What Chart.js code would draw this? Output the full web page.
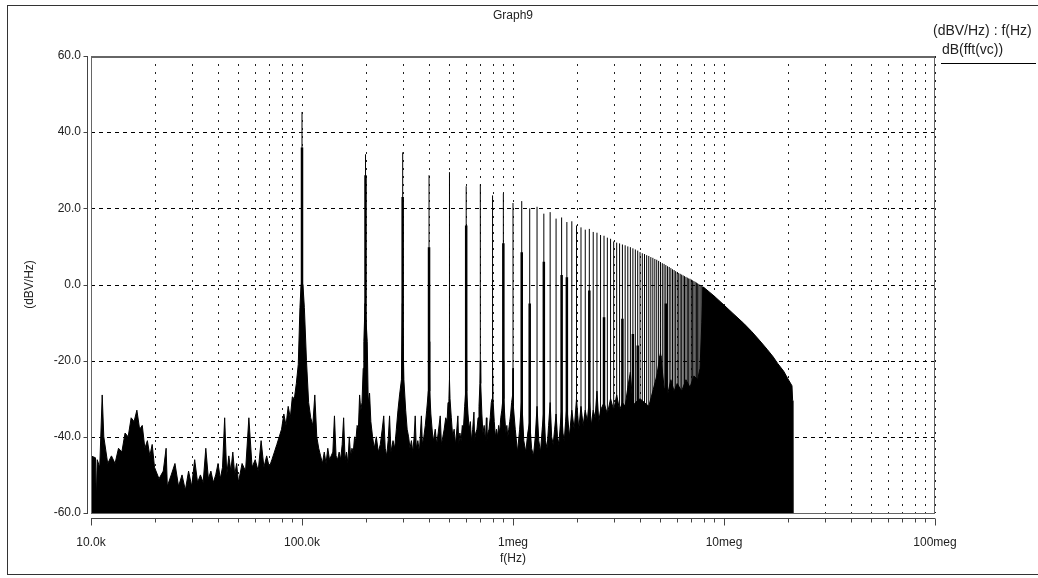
<!DOCTYPE html>
<html lang="en">
<head>
<meta charset="UTF-8">
<title>Graph9</title>
<script src="https://cdn.jsdelivr.net/npm/chart.js@4.4.1/dist/chart.umd.min.js"></script>
<style>
  html,body{margin:0;padding:0;background:#fff}
  canvas{display:block}
</style>
</head>
<body>
<canvas id="fft" width="1038" height="578"></canvas>
<script>
/****************  DATA  ****************/
const titleText = 'Graph9';
const xTitle = 'f(Hz)';
const yTitle = '(dBV/Hz)';
const legendHeader = '(dBV/Hz) : f(Hz)';
const seriesName = 'dB(fft(vc))';

const fundamentalHz = 100e3;

// peak of harmonic n (n = 1..80), dB
const harmonicPeakDb = [
  45.3, 34.2, 34.7, 28.7, 29.5, 25.8, 26.3, 23.4, 23.9, 21.4,
  21.9, 20.0, 20.4, 18.6, 19.0, 17.3, 17.6, 16.4, 16.6, 15.5,
  15.0, 14.4, 14.6, 13.8, 13.6, 13.0, 12.8, 12.3, 12.0, 11.3,
  11.0, 10.8, 10.5, 10.3, 10.0, 9.8, 9.5, 9.2, 8.9, 8.5,
  8.2, 8.0, 7.7, 7.5, 7.2, 7.0, 6.7, 6.5, 6.2, 5.9,
  5.6, 5.4, 5.1, 4.8, 4.6, 4.3, 4.0, 3.8, 3.5, 3.2,
  3.0, 2.8, 2.6, 2.4, 2.2, 2.0, 1.8, 1.6, 1.5, 1.3,
  1.1, 0.9, 0.7, 0.5, 0.3, 0.1, -0.1, -0.3, -0.5, -0.7
];

// harmonics with a thicker base, and where the thick part stops (dB)
const baseN  = [1, 2, 3, 4, 6, 9, 11, 12, 14, 17, 18, 23, 27, 33, 37, 39, 50, 53];
const baseDb = [36, 28.7, 23, 9.8, 15.5, 10.8, 8.5, -5, 6, 2.5, 1.9, -1.6, -8.6, -9, -13, -16, -18.7, -5];

// noise floor / envelope, [kHz, dB], one list per stretch of the spectrum
const noise10k = [
  [10.0,-45],[10.5,-45.5],[10.6,-57],[10.7,-46],[11.0,-48],[11.3,-29],[11.5,-40],[12.0,-47],
  [12.5,-45],[13.0,-47],[13.5,-43],[14.0,-44],[14.5,-39],[15.0,-40],[15.5,-35],[16.0,-36],
  [16.5,-33],[17.0,-38],[17.5,-37],[18.0,-43],[18.5,-41],[19.0,-45],[19.5,-42],[20.0,-48],
  [21,-51],[22,-49],[22.7,-43],[23,-53],[24,-50],[25,-47],[26,-53],[27,-50],[28,-54],[29,-49],
  [30,-53],[31,-46],[32,-52],[33,-50],[34,-52],[35,-43],[36,-51],[37,-49],[38,-52],[39,-50],
  [40,-47],[41,-51],[42,-48],[43,-35],[44,-50],[45,-45],[46,-49],[47,-44],[48,-50],[49,-47],
  [50,-52],[52,-47],[54,-49],[56,-35],[58,-48],[60,-46],[62,-49],[64,-41],[66,-48],[68,-45],
  [70,-48],[72,-46],[74,-44],[76,-42],[78,-40],[80,-38],[82,-34],[84,-37],[86,-32],[88,-35],
  [90,-29.5],[92,-30],[94,-26],[96,-21],[97.8,-6],[99,0],[101,0],[102.6,-6]
];
const noise100k = [
  [105,-20],[107.5,-31],[110,-35],[112.5,-37],[115,-29],[117.5,-40],[120,-43],[122.5,-45],
  [125,-47],[127.5,-44],[130,-47],[132.5,-43],[135,-46],[137.5,-45],[140,-44],[142.5,-34.5],
  [145,-45],[147.5,-46],[150,-44],[152.5,-46],[155,-42],[157.5,-35],[160,-46],[162.5,-44],
  [165,-47],[167.5,-40],[170,-45],[172.5,-43],[175,-44],[177.5,-40],[180,-41],[182.5,-37],
  [185,-38],[187.5,-29],[190,-33],[192.5,-31],[195,-22],[196.4,-15],[199,-5],[201,-5],
  [203.8,-15],[206,-31],[209,-28.5],[212,-36],[216,-40],[220,-43],[225,-40],[230,-44],
  [235,-42],[240,-38],[244,-34.5],[248,-43],[252,-45],[256,-41],[260,-34.5],[264,-44],
  [270,-41],[275,-43],[280,-38],[285,-33],[290,-29],[296,-25],[299,-5],[301,-5],
  [304,-25],[310,-33],[315,-38],[320,-40],[325,-43],[330,-41],[335,-44],[340,-40],
  [344,-34.5],[348,-43],[354,-41],[360,-44],[368,-34.5],[372,-42],[378,-40],[384,-37],
  [390,-33],[397,-28],[399.5,-15],[400.5,-15],[403,-28],[408,-34],[415,-39],[420,-41],
  [428,-38],[435,-42],[442,-39],[452,-34.5],[458,-42],[465,-40],[472,-38],[480,-35],
  [487,-36],[492,-31],[497,-30],[500,-25],[503,-30],[510,-35],[518,-40],[526,-38],
  [534,-42],[540,-39],[548,-34.5],[553,-42],[560,-39],[568,-41],[575,-37],[582,-38],
  [590,-32],[597,-28],[600,-20],[603,-28],[612,-34],[620,-38],[628,-36],[635,-41],
  [644,-38],[653,-33.5],[658,-41],[666,-39],[675,-38],[683,-35],[690,-32],[697,-26],
  [700,-20],[703,-26],[712,-34],[720,-39],[730,-37],[740,-41],[748,-35],[752,-41],
  [760,-39],[770,-38],[780,-35],[789,-31],[796,-30],[800,-22],[804,-30],[815,-36],
  [825,-40],[835,-38],[845,-40],[855,-37],[865,-39],[875,-35],[885,-33],[896,-30],
  [900,-20],[904,-30],[915,-35],[925,-39],[935,-37],[945,-40],[955,-38],[965,-36],
  [975,-34],[985,-31],[996,-29],[1000,-22]
];
const noise1meg = [
  [1004,-32],[1025,-38],[1050,-44],[1075,-38],[1100,-30],[1125,-41],[1150,-44],[1175,-39],
  [1200,-36],[1225,-43],[1250,-45],[1275,-40],[1300,-32],[1325,-41],[1350,-44],[1375,-38],
  [1400,-33],[1425,-41],[1450,-43],[1475,-37],[1500,-31],[1525,-40],[1550,-42],[1575,-38],
  [1600,-34],[1625,-40],[1650,-42],[1675,-37],[1700,-33],[1725,-39],[1750,-41],[1775,-36],
  [1800,-32],[1850,-40],[1900,-33],[1950,-38],[2000,-30],[2050,-38],[2100,-32],[2150,-37],
  [2200,-33],[2250,-36],[2300,-30],[2350,-37],[2400,-33],[2450,-35],[2500,-28],[2550,-36],
  [2600,-33],[2700,-31],[2800,-34],[2900,-30],[3000,-33],[3100,-29],[3200,-33],[3300,-31],
  [3400,-32],[3500,-27],[3600,-23],[3700,-32],[3800,-31],[4000,-30],[4200,-31],[4400,-32],
  [4600,-28],[4800,-24],[5000,-18],[5200,-27],[5400,-29],[5600,-25],[5800,-28],[6000,-26],
  [6300,-28],[6600,-25],[6900,-27],[7200,-24],[7500,-25],[7700,-22],[7850,-10],[7950,-1]
];
// smooth solid envelope where the harmonics merge
const envelope8meg = [
  [8000,-0.7],[8970,-3.0],[10000,-5.4],[11030,-7.6],[12400,-10.2],[13500,-12.3],
  [14800,-14.8],[16000,-17.0],[17100,-19.0],[18000,-20.8],[19200,-22.8],[20000,-24.6],
  [21000,-26.6],[21150,-30.5],[21200,-60]
];

// axis ticks
const xGridHz = [
  1e4, 2e4, 3e4, 4e4, 5e4, 6e4, 7e4, 8e4, 9e4,
  1e5, 2e5, 3e5, 4e5, 5e5, 6e5, 7e5, 8e5, 9e5,
  1e6, 2e6, 3e6, 4e6, 5e6, 6e6, 7e6, 8e6, 9e6,
  1e7, 2e7, 3e7, 4e7, 5e7, 6e7, 7e7, 8e7, 9e7,
  1e8
];
const majorTicksHz = [1e4, 1e5, 1e6, 1e7, 1e8];
const majorTickLabels = ['10.0k', '100.0k', '1meg', '10meg', '100meg'];
const yTicks = [-60, -40, -20, 0, 20, 40, 60];

/****************  BUILD POINTS  ****************/
const yMin = -60, yMax = 60;
const FONT = '"Liberation Sans", Arial, Helvetica, sans-serif';

const noisePts = [...noise10k, ...noise100k, ...noise1meg, ...envelope8meg]
  .map(([k, db]) => ({x: k * 1e3, y: db}));

const harmonicPts = [];
harmonicPeakDb.forEach((db, i) => {
  const f = (i + 1) * fundamentalHz;
  harmonicPts.push({x: f, y: yMin}, {x: f, y: db}, {x: f, y: null});
});

const basePts = [];
baseN.forEach((n, i) => {
  const f = n * fundamentalHz;
  basePts.push({x: f, y: yMin}, {x: f, y: baseDb[i]}, {x: f, y: null});
});

/****************  DECORATION PLUGIN  ****************/
const frame = {
  id: 'frame',
  beforeDatasetsDraw(chart) {
    const {ctx, chartArea: a, scales: {x, y}} = chart;
    ctx.save();
    ctx.lineWidth = 1;
    // dotted vertical grid
    ctx.strokeStyle = '#222';
    ctx.setLineDash([2, 6]);
    xGridHz.forEach(v => {
      const px = Math.round(x.getPixelForValue(v)) + 0.5;
      ctx.beginPath(); ctx.moveTo(px, a.top); ctx.lineTo(px, a.bottom); ctx.stroke();
    });
    // dashed horizontal grid
    ctx.strokeStyle = '#000';
    ctx.setLineDash([4, 4]);
    yTicks.forEach(v => {
      const py = Math.round(y.getPixelForValue(v)) + 0.5;
      ctx.beginPath(); ctx.moveTo(a.left, py); ctx.lineTo(a.right, py); ctx.stroke();
    });
    ctx.restore();
  },
  afterDraw(chart) {
    const {ctx, chartArea: a, scales: {x, y}} = chart;
    ctx.save();
    ctx.setLineDash([]);

    // outer frame
    ctx.strokeStyle = '#333';
    ctx.lineWidth = 1;
    ctx.strokeRect(7.5, 5.5, 1040, 569);

    // plot border
    ctx.strokeStyle = '#666';
    ctx.strokeRect(a.left + 0.5, a.top + 0.5, a.right - a.left - 1, a.bottom - a.top);
    ctx.beginPath(); ctx.moveTo(a.left, a.top + 1.5); ctx.lineTo(a.right, a.top + 1.5); ctx.stroke();

    // left axis with ticks
    ctx.strokeStyle = '#444';
    const ax = a.left - 3.5;
    ctx.beginPath(); ctx.moveTo(ax, a.top); ctx.lineTo(ax, a.bottom + 1); ctx.stroke();
    yTicks.forEach(v => {
      const py = Math.round(y.getPixelForValue(v)) + 0.5;
      ctx.beginPath(); ctx.moveTo(ax - 4, py); ctx.lineTo(ax, py); ctx.stroke();
    });

    // bottom axis with ticks
    const by = a.bottom + 5.5;
    ctx.beginPath(); ctx.moveTo(a.left, by); ctx.lineTo(a.right, by); ctx.stroke();
    xGridHz.forEach(v => {
      const px = Math.round(x.getPixelForValue(v)) + 0.5;
      const len = majorTicksHz.includes(v) ? 7 : 4;
      ctx.beginPath(); ctx.moveTo(px, by); ctx.lineTo(px, by + len); ctx.stroke();
    });

    // texts
    ctx.fillStyle = '#222';
    ctx.font = '12px ' + FONT;
    ctx.textAlign = 'center';
    ctx.textBaseline = 'middle';
    const cx = (a.left + a.right) / 2;
    ctx.fillText(titleText, cx, 16);
    ctx.fillText(xTitle, cx, 559);
    ctx.save();
    ctx.translate(30, (a.top + a.bottom) / 2);
    ctx.rotate(-Math.PI / 2);
    ctx.fillText(yTitle, 0, 0);
    ctx.restore();

    // legend
    ctx.textAlign = 'left';
    ctx.font = '14px ' + FONT;
    ctx.fillText(legendHeader, 933, 31);
    ctx.fillText(seriesName, 942, 50);
    ctx.strokeStyle = '#000';
    ctx.beginPath(); ctx.moveTo(941, 63.5); ctx.lineTo(1036, 63.5); ctx.stroke();
    ctx.restore();
  }
};

/****************  CHART  ****************/
new Chart(document.getElementById('fft'), {
  type: 'line',
  data: {
    datasets: [
      {label: 'harmonics', data: harmonicPts, borderColor: '#000', borderWidth: 1,
       pointRadius: 0, fill: false, spanGaps: false, tension: 0},
      {label: 'bases', data: basePts, borderColor: '#000', borderWidth: 2.5,
       pointRadius: 0, fill: false, spanGaps: false, tension: 0},
      {label: seriesName, data: noisePts, borderColor: '#000', backgroundColor: '#000',
       borderWidth: 1, pointRadius: 0, fill: 'start', tension: 0}
    ]
  },
  options: {
    responsive: false,
    animation: false,
    events: [],
    layout: {padding: {left: 0, right: 103, top: 56, bottom: 0}},
    plugins: {legend: {display: false}, tooltip: {enabled: false}, title: {display: false}},
    scales: {
      x: {
        type: 'logarithmic', min: 1e4, max: 1e8,
        afterBuildTicks: s => { s.ticks = majorTicksHz.map(v => ({value: v})); },
        afterFit: s => { s.height = 65; },
        grid: {display: false, drawTicks: false},
        border: {display: false},
        ticks: {
          autoSkip: false, maxRotation: 0, padding: 22, color: '#222',
          font: {family: FONT, size: 12},
          callback: v => { const i = majorTicksHz.indexOf(v); return i >= 0 ? majorTickLabels[i] : ''; }
        }
      },
      y: {
        type: 'linear', min: yMin, max: yMax,
        afterBuildTicks: s => { s.ticks = yTicks.map(v => ({value: v})); },
        afterFit: s => { s.width = 91; },
        grid: {display: false, drawTicks: false},
        border: {display: false},
        ticks: {
          padding: 10, color: '#222',
          font: {family: FONT, size: 12},
          callback: v => v.toFixed(1)
        }
      }
    }
  },
  plugins: [frame]
});
</script>
</body>
</html>
